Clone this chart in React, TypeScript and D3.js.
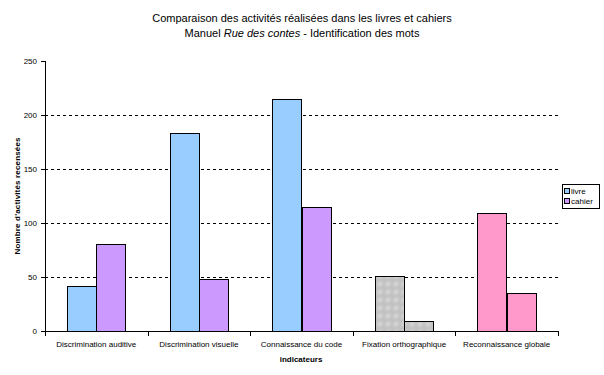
import React from "react";
import * as d3 from "d3";

const categories = [
  "Discrimination auditive",
  "Discrimination visuelle",
  "Connaissance du code",
  "Fixation orthographique",
  "Reconnaissance globale",
];
const series = ["livre", "cahier"];
const livre = [42, 183, 215, 51, 109];
const cahier = [81, 48, 115, 9, 35];
const yTicks = [0, 50, 100, 150, 200, 250];

const W = 604;
const H = 375;
const left = 45;
const right = 558;
const top = 61;
const bottom = 331;

const baseColors = ["#99CCFF", "#CC99FF"];
const barFill = (ci: number, si: number) => {
  if (ci === 3) return "url(#greydots)";
  if (ci === 4) return "#FF99CC";
  return baseColors[si];
};

export default function App() {
  const x0 = d3.scaleBand<string>().domain(categories).range([left, right]).paddingInner(0).paddingOuter(0);
  const inner = d3
    .scaleBand<string>()
    .domain(series)
    .range([0, x0.bandwidth()])
    .paddingInner(0)
    .paddingOuter(0.75);
  const y = d3.scaleLinear().domain([0, 250]).range([bottom, top]);
  const font = "Arial, 'Liberation Sans', sans-serif";
  const data = [livre, cahier];

  return (
    <svg
      width={W}
      height={H}
      style={{ position: "absolute", left: 0, top: 0, background: "#fff" }}
      fontFamily={font}
    >
      <defs>
        <pattern id="greydots" width="8" height="8" patternUnits="userSpaceOnUse">
          <rect width="8" height="8" fill="#C4C4C4" />
          <circle cx="4" cy="4" r="2.6" fill="#D0D0D0" />
          <circle cx="0" cy="0" r="1.5" fill="#BEBEBE" />
          <circle cx="8" cy="8" r="1.5" fill="#BEBEBE" />
        </pattern>
      </defs>
      <text x={302} y={22} textAnchor="middle" fontSize={11} fill="#000">
        Comparaison des activités réalisées dans les livres et cahiers
      </text>
      <text x={302} y={37} textAnchor="middle" fontSize={11} fill="#000">
        Manuel <tspan fontStyle="italic">Rue des contes</tspan> - Identification des mots
      </text>

      {/* gridlines */}
      {yTicks
        .filter((t) => t > 0 && t < 250)
        .map((t) => (
          <line
            key={"g" + t}
            x1={left}
            x2={right}
            y1={Math.round(y(t)) + 0.5}
            y2={Math.round(y(t)) + 0.5}
            stroke="#000"
            strokeDasharray="3,3"
          />
        ))}

      {/* bars */}
      {categories.map((c, ci) =>
        series.map((s, si) => {
          const v = data[si][ci];
          const bx = (x0(c) as number) + (inner(s) as number);
          return (
            <rect
              key={c + s}
              x={Math.round(bx) + 0.5}
              y={Math.round(y(v)) + 0.5}
              width={Math.round(inner.bandwidth())}
              height={Math.round(bottom - y(v))}
              fill={barFill(ci, si)}
              stroke="#000"
              strokeWidth={1}
            />
          );
        })
      )}

      {/* y axis */}
      <line x1={left + 0.5} x2={left + 0.5} y1={top} y2={bottom + 0.5} stroke="#000" />
      {yTicks.map((t) => (
        <g key={"yt" + t}>
          <line
            x1={left - 4}
            x2={left}
            y1={Math.round(y(t)) + 0.5}
            y2={Math.round(y(t)) + 0.5}
            stroke="#000"
          />
          <text x={left - 8} y={y(t) + 3} textAnchor="end" fontSize={8} fill="#000">
            {t}
          </text>
        </g>
      ))}

      {/* x axis */}
      <line x1={left} x2={right + 0.5} y1={bottom + 0.5} y2={bottom + 0.5} stroke="#000" />
      {categories.map((c, ci) => (
        <line
          key={"xt" + ci}
          x1={Math.round(x0(c) as number) + 0.5}
          x2={Math.round(x0(c) as number) + 0.5}
          y1={bottom}
          y2={bottom + 5}
          stroke="#000"
        />
      ))}
      <line x1={right + 0.5} x2={right + 0.5} y1={bottom} y2={bottom + 5} stroke="#000" />
      {categories.map((c) => (
        <text
          key={"xl" + c}
          x={(x0(c) as number) + x0.bandwidth() / 2}
          y={347}
          textAnchor="middle"
          fontSize={8}
          fill="#000"
        >
          {c}
        </text>
      ))}
      <text x={301} y={362} textAnchor="middle" fontSize={8} fontWeight="bold" fill="#000">
        indicateurs
      </text>
      <text
        transform={`translate(20,196) rotate(-90)`}
        textAnchor="middle"
        fontSize={8}
        fontWeight="bold"
        fill="#000"
        textLength={117}
        lengthAdjust="spacing"
      >
        Nombre d'activités recensées
      </text>

      {/* legend */}
      <rect x={562.5} y={184.5} width={37} height={24} fill="#fff" stroke="#000" />
      {series.map((s, si) => (
        <g key={"lg" + s}>
          <rect x={564.5} y={188.5 + si * 10} width={5} height={5} fill={baseColors[si]} stroke="#000" />
          <text x={571} y={194 + si * 10} fontSize={8} fill="#000">
            {s}
          </text>
        </g>
      ))}
    </svg>
  );
}
